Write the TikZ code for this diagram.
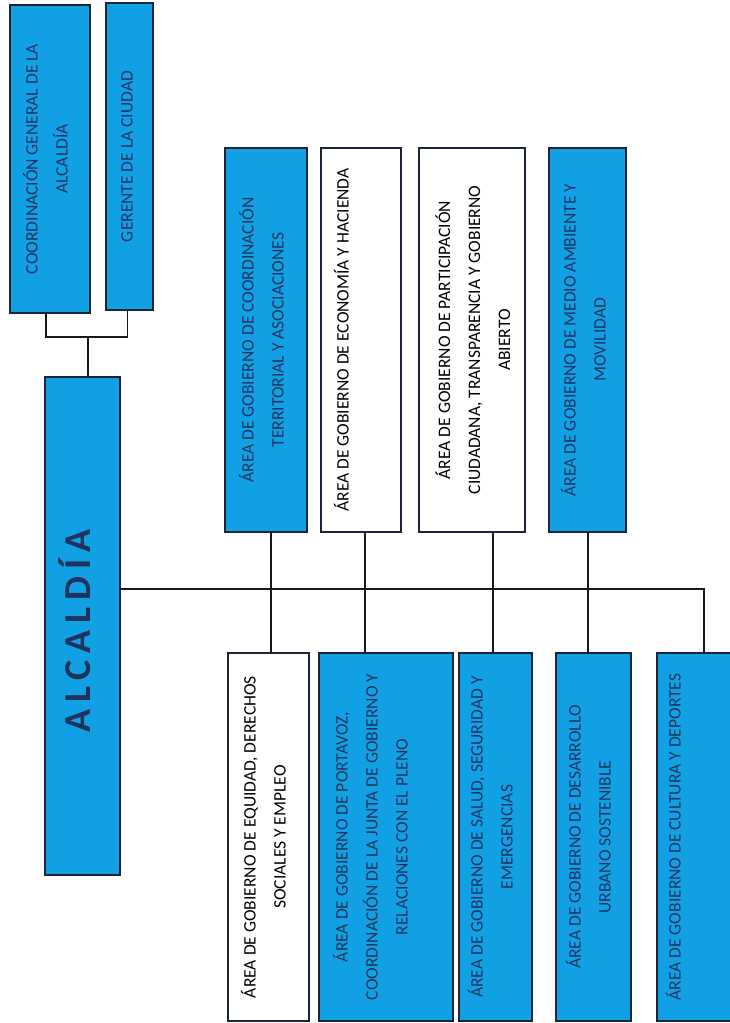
\documentclass[tikz,border=0pt]{standalone}
\usepackage{fontspec}
\setmainfont{Carlito}
\newfontfamily\alcfont[LetterSpace=18]{Carlito}
\definecolor{boxblue}{RGB}{18,160,228}
\definecolor{navytext}{RGB}{30,52,95}
\definecolor{edgecol}{RGB}{28,36,56}
\newcommand\mystrut{\rule{0pt}{15pt}}
\begin{document}
\begin{tikzpicture}[x=1pt,y=-1pt,
  box/.style={draw=edgecol, line width=1.3pt, inner sep=0pt, outer sep=0pt},
  bluebox/.style={box, fill=boxblue},
  whitebox/.style={box, fill=white},
  lab/.style={rotate=90, anchor=north, inner sep=0pt, align=center, font=\fontsize{17.5}{30}\selectfont},
  bluelab/.style={lab, text=navytext},
  whitelab/.style={lab, text=black},
  conn/.style={line width=1.4pt, draw=black!90}]
\useasboundingbox (0,0) rectangle (730,1023);
\clip (0,0) rectangle (730,1023);
\fill[white] (0,0) rectangle (730,1023);

% top level
\node[bluebox, minimum width=80pt, minimum height=308pt] (coord) at (50,159) {};
\node[bluebox, minimum width=47pt, minimum height=307pt] (ger) at (129.5,156.5) {};
\node[bluebox, minimum width=75pt, minimum height=498pt] (alc) at (82.5,626) {};

\node[bluelab] (coord-t) at ([xshift=12.5pt]coord.west) {\mystrut COORDINACIÓN GENERAL DE LA\\ ALCALDÍA};
\node[bluelab] (ger-t) at ([xshift=11.5pt]ger.west) {\mystrut GERENTE DE LA CIUDAD};
\node[rotate=90, anchor=base, inner sep=0pt, text=navytext, font=\alcfont\bfseries\fontsize{38}{40}\selectfont] (alc-t) at (90,631) {ALCALDÍA};

% upper row of areas
\node[bluebox, minimum width=82pt, minimum height=384pt] (t1) at (266,340) {};
\node[whitebox, minimum width=80pt, minimum height=384pt] (t2) at (361,340) {};
\node[whitebox, minimum width=106pt, minimum height=384pt] (t3) at (472,340) {};
\node[bluebox, minimum width=77pt, minimum height=384pt] (t4) at (587.5,340) {};

\node[bluelab] (t1-t) at ([xshift=13.5pt]t1.west) {\mystrut ÁREA DE GOBIERNO DE COORDINACIÓN\\ TERRITORIAL Y ASOCIACIONES};
\node[whitelab] (t2-t) at ([xshift=12.5pt]t2.west) {\mystrut ÁREA DE GOBIERNO DE ECONOMÍA Y HACIENDA};
\node[whitelab] (t3-t) at ([xshift=16pt]t3.west) {\mystrut ÁREA DE GOBIERNO DE PARTICIPACIÓN\\ CIUDADANA, TRANSPARENCIA Y GOBIERNO\\ ABIERTO};
\node[bluelab] (t4-t) at ([xshift=11.5pt]t4.west) {\mystrut ÁREA DE GOBIERNO DE MEDIO AMBIENTE Y\\ MOVILIDAD};

% lower row of areas
\node[whitebox, minimum width=81pt, minimum height=368pt] (b1) at (268.5,837) {};
\node[bluebox, minimum width=134pt, minimum height=368pt] (b2) at (386,837) {};
\node[bluebox, minimum width=73pt, minimum height=368pt] (b3) at (495.5,837) {};
\node[bluebox, minimum width=75pt, minimum height=368pt] (b4) at (593.5,837) {};
\node[bluebox, minimum width=103pt, minimum height=368pt] (b5) at (708.5,837) {};

\node[whitelab] (b1-t) at ([xshift=12.5pt]b1.west) {\mystrut ÁREA DE GOBIERNO DE EQUIDAD, DERECHOS\\ SOCIALES Y EMPLEO};
\node[bluelab] (b2-t) at ([xshift=13.5pt]b2.west) {\mystrut ÁREA DE GOBIERNO DE PORTAVOZ,\\ COORDINACIÓN DE LA JUNTA DE GOBIERNO Y\\ RELACIONES CON EL PLENO};
\node[bluelab] (b3-t) at ([xshift=8.5pt]b3.west) {\mystrut ÁREA DE GOBIERNO DE SALUD, SEGURIDAD Y\\ EMERGENCIAS};
\node[bluelab] (b4-t) at ([xshift=9.5pt]b4.west) {\mystrut ÁREA DE GOBIERNO DE DESARROLLO\\ URBANO SOSTENIBLE};
\node[bluelab] (b5-t) at ([xshift=8.5pt]b5.west) {\mystrut ÁREA DE GOBIERNO DE CULTURA Y DEPORTES};

% connectors
\coordinate (j1) at (88,337);
\draw[conn] ([xshift=-4pt]coord.south) |- (j1) -| ([xshift=-2pt]ger.south);
\draw[conn] (j1) -- (j1 |- alc.north);

\coordinate (bus) at (704,589);
\draw[conn] (alc.east |- bus) -- (bus) -- (bus |- b5.north);

\coordinate (v1) at (271,0);
\coordinate (v2) at (365,0);
\coordinate (v3) at (493,0);
\coordinate (v4) at (588,0);
\draw[conn] (t1.south -| v1) -- (b1.north -| v1);
\draw[conn] (t2.south -| v2) -- (b2.north -| v2);
\draw[conn] (t3.south -| v3) -- (b3.north -| v3);
\draw[conn] (t4.south -| v4) -- (b4.north -| v4);
\end{tikzpicture}
\end{document}
